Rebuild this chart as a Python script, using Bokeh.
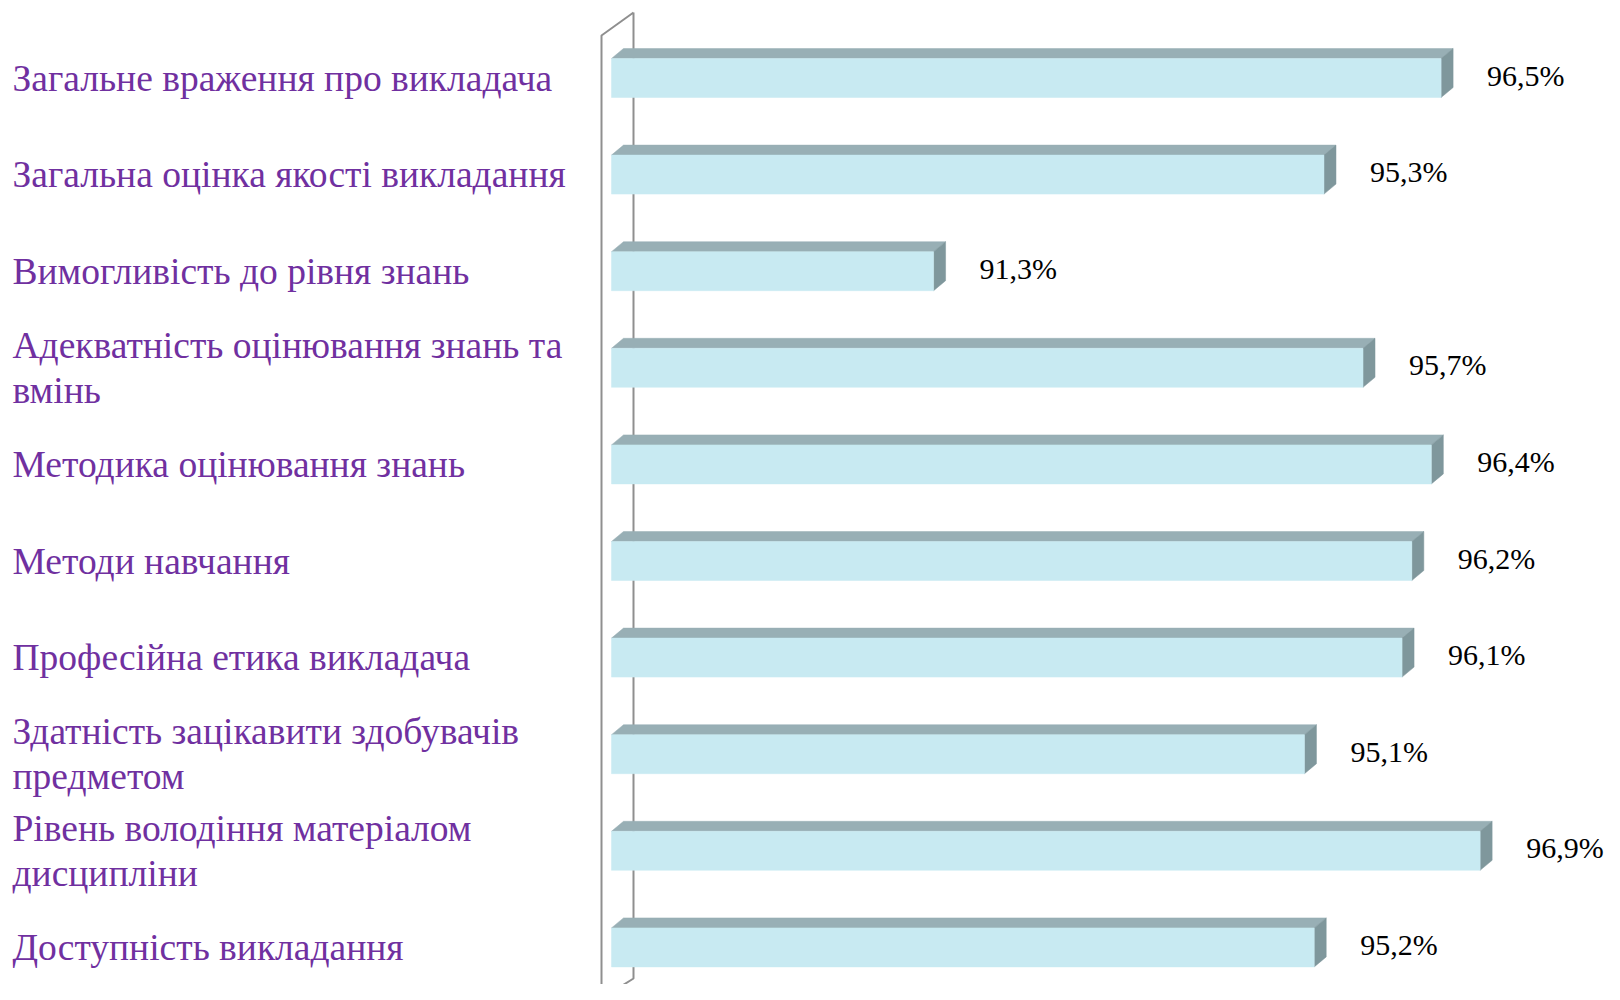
from bokeh.plotting import figure
from bokeh.models import Range1d, ColumnDataSource
from bokeh.core.properties import value
from bokeh.embed import file_html
from bokeh.resources import INLINE

# ---- data ----
categories = [
    "Загальне враження про викладача",
    "Загальна оцінка якості викладання",
    "Вимогливість до рівня знань",
    "Адекватність оцінювання знань та\nвмінь",
    "Методика  оцінювання знань",
    "Методи навчання",
    "Професійна етика викладача",
    "Здатність зацікавити здобувачів\nпредметом",
    "Рівень володіння матеріалом\nдисципліни",
    "Доступність викладання",
]
values = [96.5, 95.3, 91.3, 95.7, 96.4, 96.2, 96.1, 95.1, 96.9, 95.2]
value_labels = [("%.1f%%" % v).replace(".", ",") for v in values]
axis_min = 88.0

# ---- layout (pixels) ----
W, H = 1604, 984
PXX = 97.6      # px per percent
PXY = 96.6      # px per category step
AX_PX = 611     # pixel where axis_min sits
FIRST_PX = 77.5 # pixel of first bar centre

x_start = axis_min - AX_PX / PXX
x_end = x_start + W / PXX
y_top = -FIRST_PX / PXY
y_bottom = y_top + H / PXY

def xd(px):
    return x_start + px / PXX

def yd(px):
    return y_top + px / PXY

p = figure(width=W, height=H, output_backend="svg", toolbar_location=None,
           x_range=Range1d(x_start, x_end), y_range=Range1d(y_bottom, y_top),
           min_border=0, outline_line_color=None)
p.axis.visible = False
p.grid.visible = False
p.background_fill_color = "white"
p.border_fill_color = "white"

# 3D wall (back plane of the value axis)
xl, xr = xd(601), xd(633)
wall_x = [xr, xl, xl, xr, xr]
wall_y = [yd(12), yd(35), yd(998), yd(978), yd(12)]
p.line(wall_x, wall_y, line_color="#8f8f8f", line_width=2)

# bars
n = len(values)
ys = list(range(n))
h = 39 / PXY
dx = 12 / PXX
dy = 10 / PXY

top_xs, top_ys, side_xs, side_ys = [], [], [], []
for i, v in zip(ys, values):
    yt = i - h / 2
    yb = i + h / 2
    top_xs.append([axis_min, axis_min + dx, v + dx, v])
    top_ys.append([yt, yt - dy, yt - dy, yt])
    side_xs.append([v, v + dx, v + dx, v])
    side_ys.append([yt, yt - dy, yb - dy, yb])

p.patches(top_xs, top_ys, fill_color="#98afb5", line_color="#98afb5", line_width=0.5)
p.patches(side_xs, side_ys, fill_color="#7f979c", line_color="#7f979c", line_width=0.5)
p.hbar(y=ys, left=axis_min, right=values, height=h,
       fill_color="#c8eaf2", line_color="#c8eaf2", line_width=0.5)

# value labels
src = ColumnDataSource(dict(x=values, y=[y - 0.03 for y in ys], t=value_labels))
p.text(x="x", y="y", text="t", source=src, x_offset=46,
       text_font=value("Liberation Serif"), text_font_size="30px",
       text_color="black", text_align="left", text_baseline="middle")

# category labels
src2 = ColumnDataSource(dict(x=[xd(12)] * n, y=ys, t=categories))
p.text(x="x", y="y", text="t", source=src2,
       text_font=value("Liberation Serif"), text_font_size="37.5px",
       text_color="#7030a0", text_align="left", text_baseline="middle",
       text_line_height=1.1)

open("out.html", "w").write(file_html(p, INLINE))
